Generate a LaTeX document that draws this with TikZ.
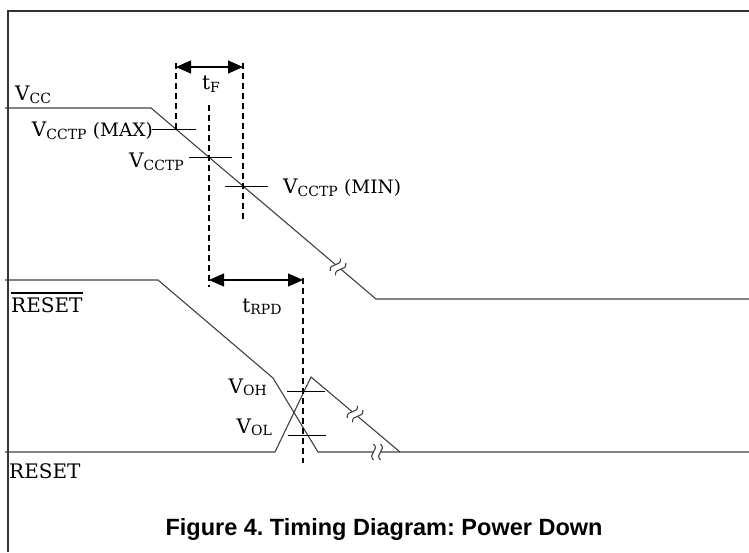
\documentclass[tikz,border=0pt]{standalone}
\usepackage{fontspec}
\setmainfont{DejaVu Serif}
\newfontfamily\capfont{Liberation Sans}
\usepackage{tikz}
\usetikzlibrary{arrows.meta,calc}
\tikzset{sig/.style={draw=black!75, line width=1.1pt}}
\tikzset{guide/.style={black, line width=1.2pt, dash pattern=on 6pt off 4pt}}
\tikzset{tickmark/.style={black, line width=0.9pt}}
\tikzset{dim/.style={black, line width=1.1pt, {Triangle[length=15pt,width=13pt]}-{Triangle[length=15pt,width=13pt]}}}
\tikzset{lbl/.style={font=\fontsize{20}{22}\selectfont, inner sep=0pt}}
\newcommand{\subx}[1]{\raisebox{-0.12em}{\fontsize{14}{14}\selectfont #1}}
\newcommand{\parx}[1]{{\fontsize{18.5}{19}\selectfont #1}}

\begin{document}
\frenchspacing
\begin{tikzpicture}[x=1pt,y=1pt]
\useasboundingbox (0,0) rectangle (749,552);

% frame
\draw[black!80, line width=1.6pt] (8,0) -- (8,541) -- (749,541);

% supply
\coordinate (v0) at (5,444);
\coordinate (v1) at (151,444);
\coordinate (v2) at (376,253);
\coordinate (v3) at (749,253);
\draw[sig] (v0) -- (v1) -- (v2) -- (v3);

% reset outputs
\coordinate (rb0) at (5,272);
\coordinate (rb1) at (158,272);
\coordinate (rb2) at (273,174);
\coordinate (rb3) at (318,100);
\coordinate (lo) at (749,100);
\draw[sig] (rb0) -- (rb1) -- (rb2) -- (rb3) -- (lo);
\coordinate (r0) at (5,100);
\coordinate (r1) at (275,100);
\coordinate (r2) at (311,175);
\coordinate (r3) at (400,100);
\draw[sig] (r0) -- (r1) -- (r2) -- (r3);

% guides
\draw[guide] (176,489) -- (176,423);
\draw[guide] (209,447) -- (209,265);
\draw[guide] (243,489) -- (243,332);
\draw[guide] (303,274) -- (303,89);

% thresholds
\draw[tickmark] (152,423) -- (196,423);
\draw[tickmark] (189,395) -- (232,395);
\draw[tickmark] (225,366) -- (268,366);
\draw[tickmark] (287,161) -- (325,161);
\draw[tickmark] (288,117) -- (326,117);

% breaks
\foreach \bx/\by/\ba in {338/285/-40, 355/138/-40, 377/100/0}
         {
           \begin{scope}[shift={(\bx,\by)}, rotate=\ba]
             \fill[white] (-3.5,-8) rectangle (3.5,8);
             \draw[black!75, line width=1.1pt] (-3.5,-8) .. controls (-10,-2) and (3,2) .. (-3.5,8);
             \draw[black!75, line width=1.1pt] (3.5,-8) .. controls (-3,-2) and (10,2) .. (3.5,8);
           \end{scope}
         }

% timing
\coordinate (fL) at (176,485);
\coordinate (fR) at (243,485);
\draw[dim] (fL) -- (fR);
\coordinate (pL) at (209,272);
\coordinate (pR) at (303,272);
\draw[dim] (pL) -- (pR);

\node[lbl, anchor=base] (tf) at (211,462) {t\subx{F}};
\node[lbl, anchor=base] (trpd) at (262,240) {t\subx{RPD}};

% labels
\node[lbl, anchor=base west] (vcc) at (15,451) {V\subx{CC}};
\node[lbl, anchor=base east] (vmax) at (153,415) {V\subx{CCTP} \parx{(MAX)}};
\node[lbl, anchor=base east] (vtp) at (184,384) {V\subx{CCTP}};
\node[lbl, anchor=base west] (vmin) at (283,358) {V\subx{CCTP} \parx{(MIN)}};
\node[lbl, anchor=base west] (rstb) at (11,240) {RESET};
\draw[black, line width=1.1pt] ([yshift=4pt]rstb.north west) -- ([yshift=4pt]rstb.north east);
\node[lbl, anchor=base west] (rst) at (9,74) {RESET};
\node[lbl, anchor=base east] (voh) at (267,159) {V\subx{OH}};
\node[lbl, anchor=base east] (vol) at (272,119) {V\subx{OL}};

\node[anchor=base, inner sep=0pt, font=\capfont\bfseries\fontsize{23.5}{26}\selectfont] (cap) at (384,17) {Figure 4. Timing Diagram: Power Down};
\end{tikzpicture}
\end{document}
